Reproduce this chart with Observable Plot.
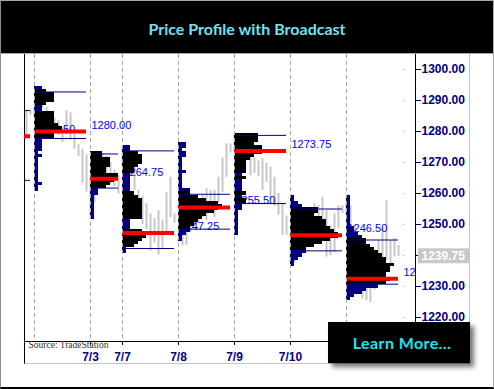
<!DOCTYPE html>
<html>
<head>
<meta charset="utf-8">
<script src="https://cdn.jsdelivr.net/npm/d3@7"></script>
<script src="https://cdn.jsdelivr.net/npm/@observablehq/plot@0.6"></script>
<style>
  html, body { margin: 0; padding: 0; background: #fff; }
  #wrap { position: relative; width: 494px; height: 389px; overflow: hidden; background: #fff; }
  #header { position: absolute; left: 0; top: 0; width: 494px; height: 53px; background: #000;
    border-bottom: 1px solid #a8a8a8; color: #72e2ee; font: bold 16px Lato, "DejaVu Sans", sans-serif;
    text-align: center; line-height: 57px; z-index: 3; }
  #win { position: absolute; left: 24px; top: 54px; width: 446px; height: 310px; box-sizing: border-box;
    border-left: 1px solid #000; border-right: 1px solid #c4c4c4; border-bottom: 1px solid #c4c4c4; }
  #chart { position: absolute; left: 0; top: 0; width: 494px; height: 389px; }
  #learn { position: absolute; left: 328px; top: 322px; width: 142px; height: 41px; background: #000;
    color: #1ee4f2; font: bold 16px Lato, "DejaVu Sans", sans-serif; text-align: center; line-height: 42px;
    padding-left: 6px; box-sizing: border-box; letter-spacing: 0.4px;
    box-shadow: 4px 4px 5px rgba(0,0,0,0.55); z-index: 4; }
  #edge { position: absolute; left: 0; top: 0; width: 494px; height: 389px; box-sizing: border-box;
    border-left: 1px solid #909090; border-top: 1px solid #a8a8a8; border-right: 1px solid #a8a8a8;
    border-bottom: 2px solid #000; pointer-events: none; z-index: 6; }
</style>
</head>
<body>
<div id="wrap">
  <div id="win"></div>
  <div id="chart"></div>
  <div id="header">Price Profile with Broadcast</div>
  <div id="learn">Learn More...</div>
  <div id="edge"></div>
</div>
<script>
// ---- sessions ----
const dayNames = ["7/1", "7/2", "7/3", "7/7", "7/8", "7/9", "7/10", "7/11"];
const dayStart = [-14, 0, 14, 22, 36, 50, 64, 78];      // session start, in bar slots
const daySlots = [14, 14, 8, 14, 14, 14, 14, 14];
const pocPrice = [1278.50, 1280.00, 1264.75, 1247.25, 1255.50, 1273.75, 1246.50, 1232.50];
const vaHigh   = [1286.75, 1292.75, 1272.75, 1273.75, 1259.75, 1278.75, 1255.00, 1245.00];
const vaLow    = [1264.25, 1277.75, 1261.75, 1242.25, 1248.50, 1256.75, 1241.50, 1230.75];
const lastPrice = 1239.75;

// ---- intraday price bars (high / low) ----
const barFirst = [12, 0, 0, 0, 0, 0, 0, 0];
const high0701 = [1286.75, 1287.00];
const low0701  = [1278.75, 1285.25];
const high0702 = [1290.00, 1293.75, 1292.50, 1287.75, 1285.25, 1284.25, 1283.50, 1281.25, 1286.75, 1286.00, 1279.00, 1275.75, 1274.25, 1272.50];
const low0702  = [1284.25, 1288.50, 1287.50, 1284.50, 1281.00, 1280.00, 1278.75, 1276.50, 1279.00, 1277.25, 1274.25, 1272.00, 1263.25, 1260.50];
const high0703 = [1266.00, 1268.00, 1271.00, 1272.75, 1272.00, 1270.00, 1267.50, 1265.75];
const low0703  = [1252.00, 1257.00, 1262.00, 1264.00, 1264.00, 1263.00, 1262.25, 1259.75];
const high0707 = [1275.50, 1274.00, 1273.00, 1272.00, 1261.00, 1259.00, 1256.75, 1253.50, 1252.00, 1254.50, 1251.25, 1260.25, 1265.25, 1253.50];
const low0707  = [1269.00, 1268.50, 1266.00, 1261.00, 1253.00, 1250.00, 1248.25, 1241.50, 1244.00, 1240.25, 1242.25, 1247.50, 1252.25, 1250.50];
const high0708 = [1248.75, 1248.00, 1250.50, 1253.00, 1256.00, 1257.75, 1259.50, 1261.50, 1261.00, 1261.00, 1265.25, 1271.50, 1276.00, 1276.00];
const low0708  = [1244.25, 1243.25, 1243.25, 1247.50, 1249.75, 1250.50, 1252.25, 1251.25, 1254.00, 1252.25, 1256.75, 1260.25, 1265.25, 1273.00];
const high0709 = [1279.25, 1278.75, 1278.00, 1277.00, 1276.00, 1271.50, 1270.50, 1271.25, 1269.75, 1268.50, 1265.25, 1260.00, 1256.75, 1252.75];
const low0709  = [1274.00, 1273.50, 1271.25, 1270.50, 1265.75, 1266.50, 1265.50, 1261.00, 1263.50, 1258.00, 1255.75, 1253.00, 1246.50, 1246.50];
const high0710 = [1244.75, 1246.50, 1248.00, 1249.75, 1252.25, 1254.50, 1256.75, 1256.00, 1258.75, 1254.50, 1249.75, 1253.50, 1256.00, 1256.00];
const low0710  = [1237.50, 1237.75, 1240.00, 1241.50, 1244.25, 1249.75, 1253.00, 1251.25, 1248.75, 1239.50, 1240.00, 1241.00, 1248.75, 1253.50];
const high0711 = [1259.00, 1256.00, 1249.75, 1243.25, 1235.50, 1231.00, 1232.00, 1238.50, 1244.75, 1248.75, 1257.75, 1244.75, 1245.50, 1243.25];
const low0711  = [1253.00, 1246.50, 1241.50, 1233.75, 1226.00, 1225.50, 1224.75, 1228.75, 1230.25, 1235.25, 1238.50, 1237.50, 1239.50, 1239.75];
const barHigh = [high0701, high0702, high0703, high0707, high0708, high0709, high0710, high0711];
const barLow  = [low0701, low0702, low0703, low0707, low0708, low0709, low0710, low0711];

// ---- price profiles: count per 1-point row, from the top price down ----
const profileTop = [null, 1294, 1273, 1275, 1276, 1279, 1259, 1259];
const prof0702 = [2,3,5,5,5,3,2,2,5,5,5,5,6,7,7,5,5,2,2,2,2,1,2,1,1,1,1,1,1,1,1,2,1,1];
const prof0703 = [3,3,5,5,5,4,4,7,7,6,5,4,2,2,1,1,1,1,1,1,1,1];
const prof0707 = [2,2,4,5,5,5,4,3,3,2,2,2,2,2,2,3,4,5,5,5,5,5,5,5,2,2,2,5,6,6,5,4,3,1,1];
const prof0708 = [2,2,1,2,2,1,1,1,1,2,1,1,1,1,1,3,3,5,7,10,11,10,9,7,6,5,4,3,3,2,1,1];
const prof0709 = [6,6,6,5,7,7,7,5,4,3,3,3,3,2,3,2,2,2,2,3,2,3,3,2,2,1,1,1,1,1,1,1,1];
const prof0710 = [1,1,2,3,7,7,6,8,9,9,10,11,12,12,10,8,6,4,4,3,2,1,1];
const prof0711 = [1,1,1,1,1,1,1,1,1,1,2,2,3,4,5,5,6,7,8,9,10,10,12,11,11,10,10,11,10,8,5,4,2,1];
const profileCounts = [[], prof0702, prof0703, prof0707, prof0708, prof0709, prof0710, prof0711];

// ---- axes ----
const yTicks = [1220, 1230, 1240, 1250, 1260, 1270, 1280, 1290, 1300];
const dateTicks = [14, 22, 36, 50, 64, 78];
const sourceNote = "Source: TradeStation";

const xDomain = [-2.5, 95.25];
const yDomain = [1212.26, 1304.84];
const W = 494, H = 389, ML = 24, MR = 79, MT = 54, MB = 48;

// ---- derived tables ----
const days = dayNames.map((name, k) => ({
  name, start: dayStart[k], end: dayStart[k] + daySlots[k] - 1, next: dayStart[k] + daySlots[k],
  poc: pocPrice[k], vah: vaHigh[k], val: vaLow[k]
}));
const bars = [];
dayNames.forEach((n, k) => barHigh[k].forEach((h, i) =>
  bars.push({x: dayStart[k] + barFirst[k] + i, high: h, low: barLow[k][i]})));
const rows = [];
dayNames.forEach((n, k) => profileCounts[k].forEach((c, j) => {
  const p = profileTop[k] - j;
  const inVA = p <= vaHigh[k] + 0.25 && p >= vaLow[k] - 0.25 && c >= 3;
  rows.push({x1: dayStart[k], x2: dayStart[k] + c, y1: p - 0.5, y2: p + 0.5, inVA});
}));
const vaLines = days.flatMap(d => [{y: d.vah, x1: d.start, x2: d.end}, {y: d.val, x1: d.start, x2: d.end}]);

const chart = Plot.plot({
  width: W, height: H,
  marginLeft: ML, marginRight: MR, marginTop: MT, marginBottom: MB,
  style: {background: "transparent", color: "#000080", fontFamily: "'Liberation Sans', Arial, sans-serif",
          fontSize: "12px", fontWeight: "bold", overflow: "visible"},
  x: {domain: xDomain, label: null, ticks: dateTicks, tickSize: 4, tickPadding: 7,
      tickFormat: d => dayNames[dayStart.indexOf(d)]},
  y: {domain: yDomain, label: null, axis: "right", ticks: yTicks, tickSize: 5, tickPadding: 1,
      tickFormat: d => d.toFixed(2)},
  marks: [
    Plot.ruleX(bars, {x: "x", y1: "low", y2: "high", stroke: "#c6c6c6", strokeWidth: 2, clip: true}),
    Plot.text(days, {x: "next", y: "poc", text: d => d.poc.toFixed(2), textAnchor: "start", lineAnchor: "bottom",
      dx: 1, dy: -3, fill: "#0000ff", fontSize: 11, fontWeight: "normal", clip: true}),
    Plot.rect(rows.filter(r => !r.inVA), {x1: "x1", x2: "x2", y1: "y1", y2: "y2", fill: "#000080",
      shapeRendering: "crispEdges", clip: true}),
    Plot.rect(rows.filter(r => r.inVA), {x1: "x1", x2: "x2", y1: "y1", y2: "y2", fill: "#000000",
      shapeRendering: "crispEdges", clip: true}),
    Plot.ruleY(vaLines, {y: "y", x1: "x1", x2: "x2", stroke: "#000080", strokeWidth: 1, clip: true}),
    Plot.ruleY(days, {y: "poc", x1: "start", x2: "end", stroke: "#ff0000", strokeWidth: 4, clip: true}),
    Plot.ruleX(dayStart.slice(1), {stroke: "#a8a8a8", strokeDasharray: "4,3"}),
    Plot.dot(yTicks, {y: d => d, frameAnchor: "right", dx: -12, r: 0.8, fill: "#b8b8b8", stroke: null}),
    Plot.ruleY([yDomain[0]], {stroke: "#000"}),
    Plot.ruleX([xDomain[1]], {stroke: "#000"}),
    Plot.text([sourceNote], {text: d => d, frameAnchor: "bottom-left", textAnchor: "start", lineAnchor: "top",
      dx: 4, dy: 0, fill: "#333", fontFamily: "'Liberation Serif', 'Times New Roman', serif",
      fontSize: 9.5, fontWeight: "normal"}),
    Plot.text([lastPrice], {y: d => d, text: d => d.toFixed(2), frameAnchor: "right", textAnchor: "start",
      dx: 6, fill: "#ffffff", fontWeight: "bold"})
  ]
});
document.getElementById("chart").appendChild(chart);

// grey box behind the last-price label, positioned with the plot's y scale
const yLast = chart.scale("y").apply(lastPrice);
const lbl = Array.from(chart.querySelectorAll("text")).find(t => t.textContent === lastPrice.toFixed(2));
if (lbl) {
  const g = lbl.closest("g") || lbl;
  const rect = document.createElementNS("http://www.w3.org/2000/svg", "rect");
  rect.setAttribute("x", W - MR + 3);
  rect.setAttribute("y", yLast - 7.5);
  rect.setAttribute("width", 51);
  rect.setAttribute("height", 15);
  rect.setAttribute("fill", "#c8c8c8");
  g.parentNode.insertBefore(rect, g);
}
</script>
</body>
</html>
